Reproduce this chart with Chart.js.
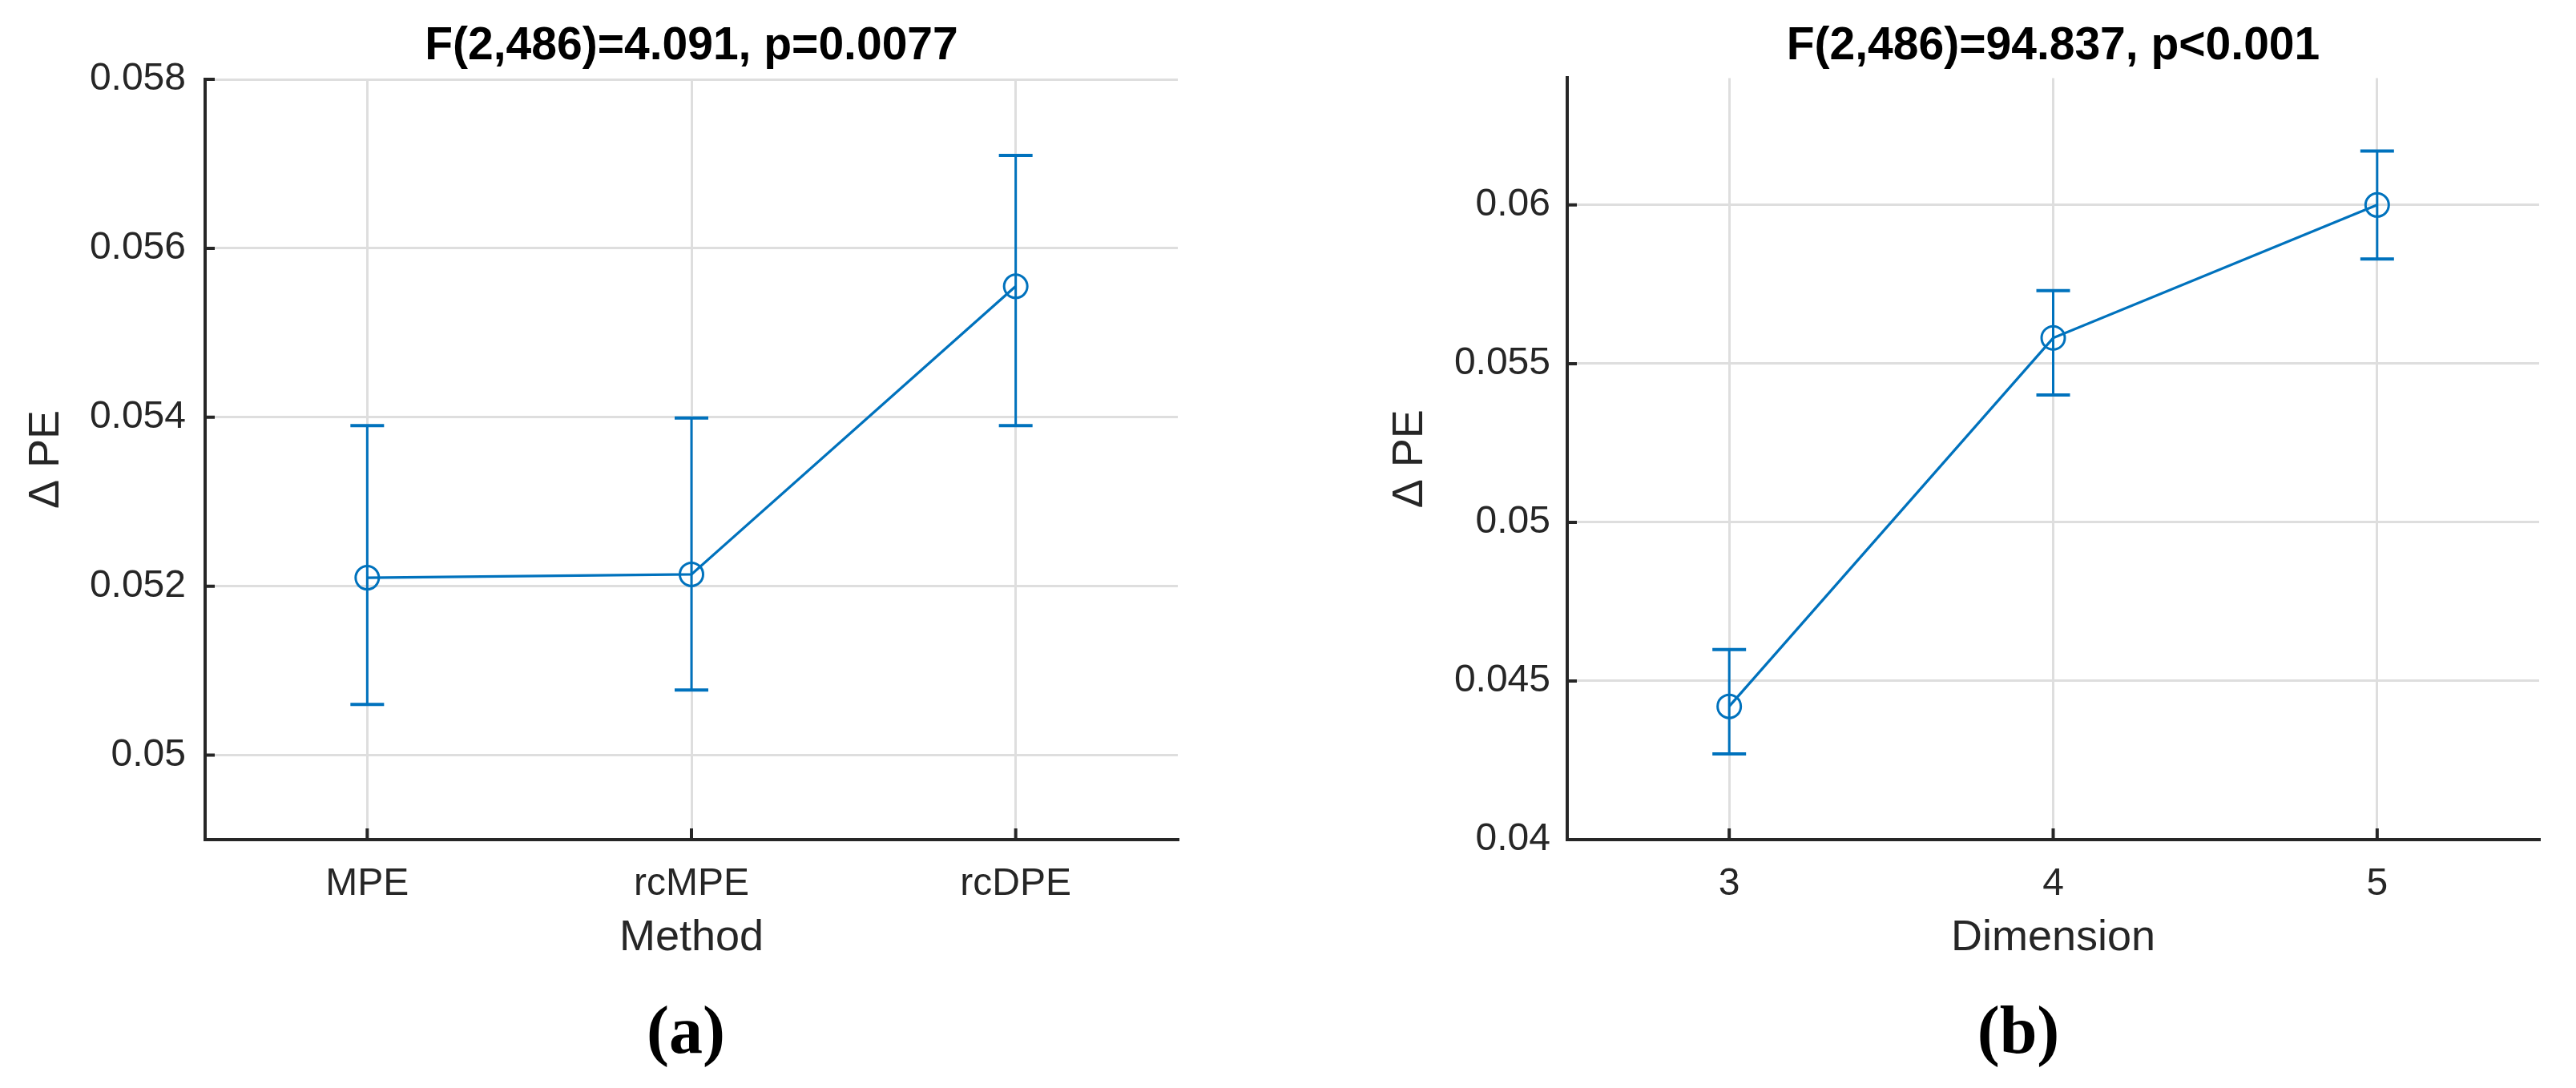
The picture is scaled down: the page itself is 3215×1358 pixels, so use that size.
<!DOCTYPE html>
<html>
<head>
<meta charset="utf-8">
<script src="https://cdn.jsdelivr.net/npm/chart.js@4.4.0/dist/chart.umd.min.js"></script>
<style>
  html, body { margin: 0; padding: 0; background: #fff; }
  body { width: 3215px; height: 1358px; position: relative; overflow: hidden; }
  canvas { position: absolute; top: 0; }
  #chartA { left: 0; }
  #chartB { left: 1702px; }
  .caption {
    position: absolute; top: 1244px; width: 200px; text-align: center;
    font: bold 84px 'Liberation Serif', 'DejaVu Serif', serif; line-height: 84px; color: #000;
  }
</style>
</head>
<body>
<canvas id="chartA" width="1600" height="1204"></canvas>
<canvas id="chartB" width="1513" height="1204"></canvas>
<div class="caption" style="left:756px">(a)</div>
<div class="caption" style="left:2419px">(b)</div>
<script>
// Panel (a): method
const methods = ['MPE', 'rcMPE', 'rcDPE'];
const methodMean = [0.05210, 0.05214, 0.05555];
const methodLow = [0.05060, 0.05077, 0.05390];
const methodHigh = [0.05390, 0.05399, 0.05710];
const methodTicks = [0.050, 0.052, 0.054, 0.056, 0.058];
const methodTickLabels = ['0.05', '0.052', '0.054', '0.056', '0.058'];

// Panel (b): dimension
const dims = ['3', '4', '5'];
const dimMean = [0.04420, 0.05581, 0.06000];
const dimLow = [0.04270, 0.05401, 0.05830];
const dimHigh = [0.04599, 0.05730, 0.06170];
const dimTicks = [0.040, 0.045, 0.050, 0.055, 0.060];
const dimTickLabels = ['0.04', '0.045', '0.05', '0.055', '0.06'];

const blue = '#0072BD';
const textColor = '#262626';
const axisColor = '#262626';
const gridColor = '#dedede';
const fontFamily = "'Liberation Sans', Arial, Helvetica, sans-serif";

// error bars with caps, drawn from the chart's own scales
const errorBars = {
    id: 'errorBars',
    beforeDatasetsDraw(chart, args, opts) {
        const ctx = chart.ctx;
        const x = chart.scales.x, y = chart.scales.y;
        ctx.save();
        ctx.strokeStyle = blue;
        opts.low.forEach((lo, i) => {
            const px = x.getPixelForValue(i);
            const yLo = y.getPixelForValue(lo);
            const yHi = y.getPixelForValue(opts.high[i]);
            ctx.lineWidth = 3;
            ctx.beginPath();
            ctx.moveTo(px, yLo);
            ctx.lineTo(px, yHi);
            ctx.stroke();
            ctx.lineWidth = 4;
            ctx.beginPath();
            ctx.moveTo(px - 21, yLo); ctx.lineTo(px + 21, yLo);
            ctx.moveTo(px - 21, yHi); ctx.lineTo(px + 21, yHi);
            ctx.stroke();
        });
        ctx.restore();
    }
};

// MATLAB-style tick marks pointing into the plot
const innerTicks = {
    id: 'innerTicks',
    afterDraw(chart) {
        const ctx = chart.ctx;
        const area = chart.chartArea;
        const x = chart.scales.x, y = chart.scales.y;
        ctx.save();
        ctx.strokeStyle = axisColor;
        ctx.lineWidth = 4;
        ctx.beginPath();
        y.ticks.forEach(t => {
            const py = y.getPixelForValue(t.value);
            ctx.moveTo(area.left, py);
            ctx.lineTo(area.left + 12, py);
        });
        x.ticks.forEach((t, i) => {
            const px = x.getPixelForTick(i);
            ctx.moveTo(px, area.bottom);
            ctx.lineTo(px, area.bottom - 14);
        });
        ctx.stroke();
        ctx.restore();
    }
};

function makeChart(id, cfg) {
    return new Chart(document.getElementById(id), {
        type: 'line',
        data: {
            labels: cfg.labels,
            datasets: [{
                data: cfg.mean,
                borderColor: blue,
                borderWidth: 3.3,
                tension: 0,
                pointRadius: 14.5,
                pointBorderWidth: 3,
                pointBorderColor: blue,
                pointBackgroundColor: 'rgba(0,0,0,0)',
                clip: false
            }]
        },
        options: {
            responsive: false,
            animation: false,
            devicePixelRatio: 1,
            layout: { padding: { left: 0, right: cfg.padRight, top: 0, bottom: 0 } },
            plugins: {
                legend: { display: false },
                tooltip: { enabled: false },
                title: {
                    display: true,
                    text: cfg.title,
                    fullSize: false,
                    color: '#000',
                    font: { family: fontFamily, size: 57, weight: 'bold' },
                    padding: { top: 24, bottom: cfg.titleGap }
                },
                errorBars: { low: cfg.low, high: cfg.high }
            },
            scales: {
                x: {
                    type: 'category',
                    offset: true,
                    afterFit: axis => { axis.height = 156; },
                    ticks: {
                        color: textColor,
                        font: { family: fontFamily, size: 48 },
                        padding: 27,
                        maxRotation: 0,
                        autoSkip: false
                    },
                    grid: { offset: false, color: gridColor, lineWidth: 3, drawTicks: false },
                    border: { display: true, color: axisColor, width: 4 },
                    title: {
                        display: true,
                        text: cfg.xTitle,
                        color: textColor,
                        font: { family: fontFamily, size: 54 },
                        padding: { top: 0, bottom: 0 }
                    }
                },
                y: {
                    min: cfg.yMin,
                    max: cfg.yMax,
                    afterBuildTicks: axis => { axis.ticks = cfg.yTicks.map(v => ({ value: v })); },
                    afterFit: axis => { axis.width = cfg.yAxisWidth; },
                    ticks: {
                        color: textColor,
                        font: { family: fontFamily, size: 48 },
                        padding: cfg.yTickPad,
                        callback: (v, i) => cfg.yTickLabels[i]
                    },
                    grid: { color: gridColor, lineWidth: 3, drawTicks: false },
                    border: { display: true, color: axisColor, width: 4 },
                    title: {
                        display: true,
                        text: 'Δ PE',
                        color: textColor,
                        font: { family: fontFamily, size: 54 },
                        padding: { top: 26, bottom: 0 }
                    }
                }
            }
        },
        plugins: [errorBars, innerTicks]
    });
}

makeChart('chartA', {
    labels: methods, mean: methodMean, low: methodLow, high: methodHigh,
    yMin: 0.049, yMax: 0.058, yTicks: methodTicks, yTickLabels: methodTickLabels,
    title: 'F(2,486)=4.091, p=0.0077', xTitle: 'Method',
    padRight: 130, yAxisWidth: 256, yTickPad: 24, titleGap: 6.6
});

makeChart('chartB', {
    labels: dims, mean: dimMean, low: dimLow, high: dimHigh,
    yMin: 0.040, yMax: 0.064, yTicks: dimTicks, yTickLabels: dimTickLabels,
    title: 'F(2,486)=94.837, p<0.001', xTitle: 'Dimension',
    padRight: 46, yAxisWidth: 254, yTickPad: 21, titleGap: 5
});
</script>
</body>
</html>
